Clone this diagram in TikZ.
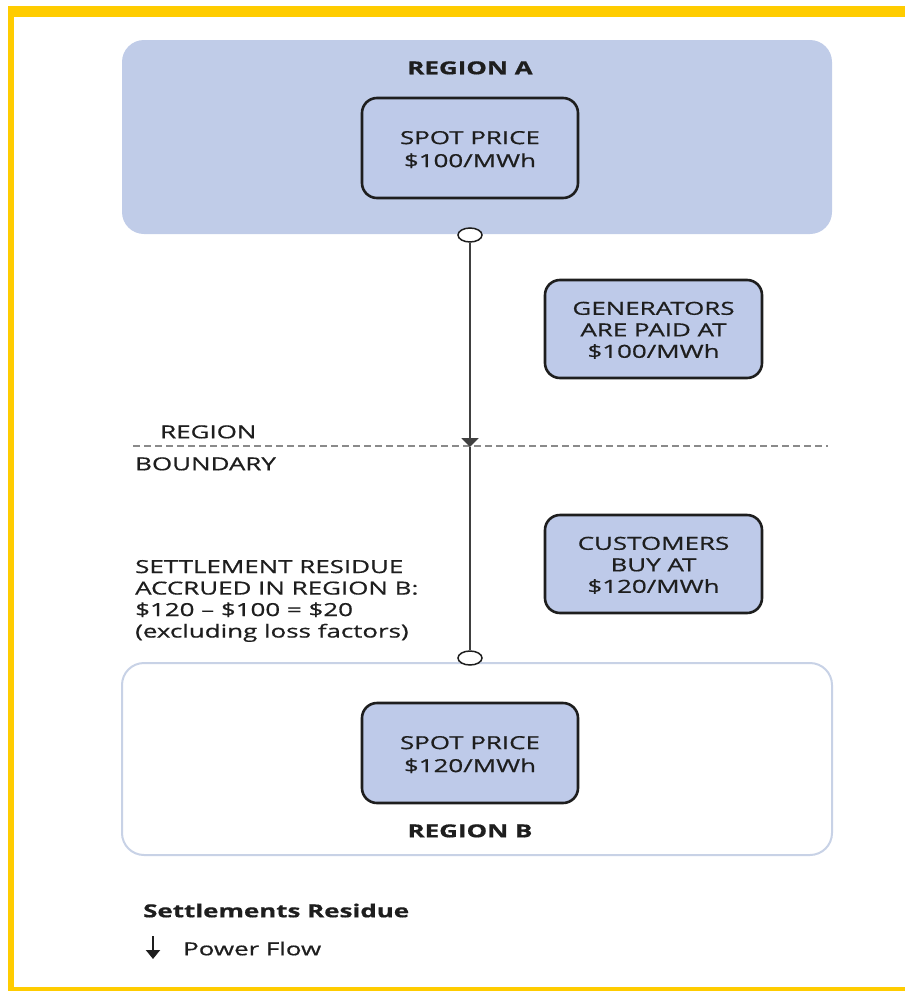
\documentclass[tikz,border=0pt]{standalone}
\usepackage{fontspec}
\setmainfont{Open Sans}[FakeBold=0.6]
\usetikzlibrary{arrows.meta,shapes.geometric}
\definecolor{gold}{HTML}{FFCC00}
\definecolor{regblue}{HTML}{C0CCE8}
\definecolor{boxblue}{HTML}{BECAE9}
\definecolor{rbedge}{HTML}{C8D2E6}
\definecolor{ink}{HTML}{1E1E1E}
\definecolor{dashgray}{HTML}{8A8A8A}
\newcommand\myhs{1.44}
\newcommand\widec[1]{\scalebox{\myhs}[1]{\begin{tabular}{@{}c@{}}#1\end{tabular}}}
\newcommand\widel[1]{\scalebox{\myhs}[1]{\begin{tabular}{@{}l@{}}#1\end{tabular}}}
\begin{document}
\begin{tikzpicture}[x=1pt,y=-1pt,
  font=\fontsize{18}{21.5}\selectfont,
  regionA/.style={fill=regblue, draw=none, rounded corners=22pt, minimum width=710, minimum height=194, inner sep=0},
  regionB/.style={fill=white, draw=rbedge, line width=2pt, rounded corners=22pt, minimum width=710, minimum height=192, inner sep=0},
  pricebox/.style={fill=boxblue, draw=ink, line width=2.6pt, rounded corners=15pt, inner sep=0},
  terminal/.style={ellipse, draw=ink, fill=white, line width=1.5pt, minimum width=24, minimum height=14, inner sep=0},
  wire/.style={draw=ink!85, line width=2pt},
  label/.style={inner sep=0, text=ink, yshift=-3pt}
]
\useasboundingbox (0,0) rectangle (905,991);
% yellow frame
\fill[gold] (8,6) rectangle (905,17);
\fill[gold] (8,6) rectangle (14,991);
\fill[gold] (8,987) rectangle (905,991);

% regions
\node[regionA] (ra) at (477,137) {};
\node[regionB] (rb) at (477,759) {};
\node[label, font=\fontsize{18}{21.5}\selectfont\bfseries] (ralab) at (470,67) {\widec{REGION A}};
\node[label, font=\fontsize{18}{21.5}\selectfont\bfseries] (rblab) at (470,830) {\widec{REGION B}};

% price boxes
\node[pricebox, minimum width=216, minimum height=100] (spa) at (470,148) {};
\node[label, font=\fontsize{18}{23}\selectfont] (spat) at (spa) {\widec{SPOT PRICE\\\$100/MWh}};
\node[pricebox, minimum width=216, minimum height=100] (spb) at (470,753) {};
\node[label, font=\fontsize{18}{23}\selectfont] (spbt) at (spb) {\widec{SPOT PRICE\\\$120/MWh}};
\node[pricebox, minimum width=217, minimum height=98] (gen) at (653.5,329) {};
\node[label] (gent) at (gen) {\widec{GENERATORS\\ARE PAID AT\\\$100/MWh}};
\node[pricebox, minimum width=217, minimum height=98] (cus) at (653.5,564) {};
\node[label] (cust) at (cus) {\widec{CUSTOMERS\\BUY AT\\\$120/MWh}};

% boundary
\coordinate (bl) at (133,446);
\coordinate (br) at (828,446);
\draw[dashgray, line width=1.3pt, dash pattern=on 7pt off 4pt] (bl) -- (br);
\node[label, anchor=west] (regl) at (160,431) {\widel{REGION}};
\node[label, anchor=west] (bndl) at (135,463) {\widel{BOUNDARY}};

% interconnector
\node[terminal] (ta) at (470,235) {};
\node[terminal] (tb) at (470,658) {};
\coordinate (mid) at (470,447);
\draw[wire, -{Triangle[width=17pt,length=9pt]}] (ta.south) -- (mid);
\draw[wire] (mid) -- (tb.north);

% settlement residue text
\node[label, anchor=west, yshift=2pt] (resid) at (135,600) {\widel{SETTLEMENT RESIDUE\\ACCRUED IN REGION B:\\\$120 -- \$100 = \$20\\(excluding loss factors)}};

% legend
\node[label, anchor=west, font=\fontsize{18}{21.5}\selectfont\bfseries] (legt) at (143,910) {\widel{Settlements Residue}};
\coordinate (la) at (153,936);
\coordinate (lb) at (153,959);
\draw[ink, line width=2pt, -{Triangle[width=14pt,length=9pt]}] (la) -- (lb);
\node[label, anchor=west] (legp) at (183,948) {\widel{Power Flow}};
\end{tikzpicture}
\end{document}
